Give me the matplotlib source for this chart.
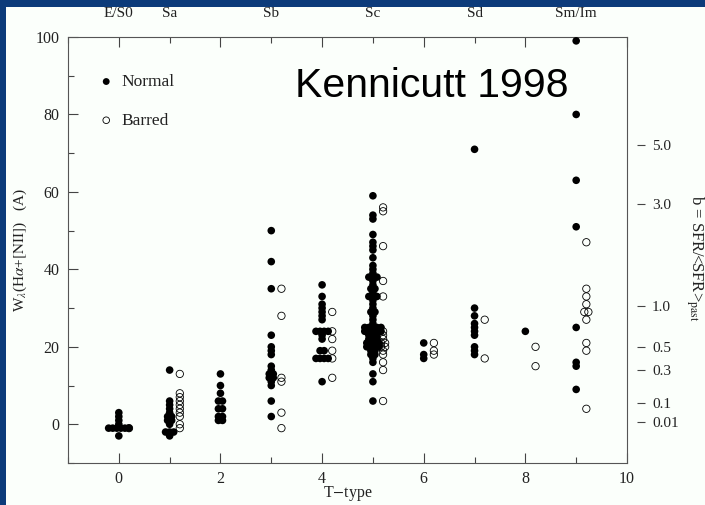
from collections import Counter

import matplotlib
matplotlib.use("Agg")
import matplotlib.pyplot as plt
from matplotlib.patches import Rectangle
from matplotlib.ticker import MultipleLocator
from matplotlib.transforms import blended_transform_factory

plt.rcParams['font.family'] = ['Liberation Serif', 'DejaVu Serif']
plt.rcParams['mathtext.fontset'] = 'stix'

# Hubble type index and the class names written along the top
t_types = [0, 1, 2, 3, 4, 5, 6, 7, 8, 9]
class_names = ['E/S0', 'Sa', 'Sb', 'Sc', 'Sd', 'Sm/Im']
class_t = [0, 1, 3, 5, 7, 9]

# Equivalent widths W(Ha+[NII]) in Angstrom, normal spirals
normal_0 = [3, 2, 1, 0, -1, -1, -1, -1, -1, -1, -3]
normal_1 = [14, 6, 5, 4, 3, 2, 2, 1, 1, 0, -2, -2, -2, -3]
normal_2 = [13, 10, 8, 6, 6, 4, 4, 2, 2, 1, 1]
normal_3 = [50, 42, 35, 23, 20, 19, 18, 15, 14, 13, 13, 12, 12, 11, 10, 6, 2]
normal_4 = [36, 33, 31, 30, 29, 28, 27, 24, 24, 24, 24, 23, 22, 19, 19,
            17, 17, 17, 17, 11]
normal_5 = [59, 54, 53, 49, 47, 46, 45, 43, 41, 40, 39, 38, 38, 38, 37, 36,
            35, 35, 34, 33, 33, 33, 32, 31, 30, 29, 29, 28, 27, 26, 25, 25,
            25, 25, 25, 24, 24, 24, 24, 24, 23, 23, 23, 22, 22, 22, 21, 21,
            21, 21, 20, 20, 20, 20, 19, 19, 18, 18, 17, 16, 13, 11, 6]
normal_6 = [21, 18, 17]
normal_7 = [71, 30, 28, 26, 25, 24, 23, 20, 19, 18]
normal_8 = [24]
normal_9 = [99, 80, 63, 51, 25, 16, 15, 9]

# same, barred spirals
barred_0 = [-1]
barred_1 = [13, 8, 7, 6, 5, 4, 3, 2, 0, -1]
barred_2 = []
barred_3 = [35, 28, 12, 11, 3, -1]
barred_4 = [29, 24, 22, 19, 17, 12]
barred_5 = [56, 55, 46, 37, 33, 24, 23, 22, 21, 21, 20, 20, 19, 18, 16, 14, 6]
barred_6 = [21, 19, 18]
barred_7 = [27, 17]
barred_8 = [20, 15]
barred_9 = [47, 35, 33, 31, 29, 29, 27, 21, 19, 4]

normal = [normal_0, normal_1, normal_2, normal_3, normal_4,
          normal_5, normal_6, normal_7, normal_8, normal_9]
barred = [barred_0, barred_1, barred_2, barred_3, barred_4,
          barred_5, barred_6, barred_7, barred_8, barred_9]

# birthrate parameter b = SFR/<SFR>past and the W it corresponds to
b_labels = ['5.0', '3.0', '1.0', '0.5', '0.3', '0.1', '0.01']
b_at_w = [72, 57, 30.5, 20, 14, 5.5, 0.5]


def spread(values, center, step=0.08):
    """Put galaxies with the same W side by side around the column."""
    xs, ys = [], []
    for v, n in Counter(values).items():
        for i in range(n):
            xs.append(center + (i - (n - 1) / 2) * step)
            ys.append(v)
    return xs, ys


nx, ny, bx, by = [], [], [], []
for t, vals in zip(t_types, normal):
    x, y = spread(vals, t)
    nx += x
    ny += y
for t, vals in zip(t_types, barred):
    x, y = spread(vals, t + 0.2)
    bx += x
    by += y

fig = plt.figure(figsize=(7.05, 5.05), dpi=100)
fig.patch.set_facecolor('#0c3b7a')
fig.patches.append(Rectangle((6 / 705, 0), 1, (505 - 7) / 505,
                             transform=fig.transFigure,
                             facecolor='#fbfffb', edgecolor='none',
                             zorder=-10))

ax = fig.add_axes([68 / 705, 42 / 505, 559 / 705, 426 / 505])
ax.set_facecolor('#fbfffb')

ax.scatter(nx, ny, s=30, color='black', edgecolors='none', label='Normal',
           zorder=3)
ax.scatter(bx, by, s=28, facecolors='none', edgecolors='black',
           linewidths=0.6, label='Barred', zorder=3)

ax.set_xlim(-1, 10)
ax.set_ylim(-10, 100)
ax.xaxis.set_major_locator(MultipleLocator(2))
ax.xaxis.set_minor_locator(MultipleLocator(1))
ax.yaxis.set_major_locator(MultipleLocator(20))
ax.yaxis.set_minor_locator(MultipleLocator(10))
ax.tick_params(which='both', direction='in', top=True, right=True,
               color='#444444', labelsize=11.5, labelcolor='#222222')
ax.tick_params(which='major', length=7, width=0.8, pad=6)
ax.tick_params(which='minor', length=4, width=0.8)
for sp in ax.spines.values():
    sp.set_color('#555555')
    sp.set_linewidth(0.8)

ax.set_xlabel('T$-$type', fontsize=11.5, color='#222222')
ax.xaxis.set_label_coords(0.5, -0.05)
ax.set_ylabel(r'W$_\lambda$(H$\alpha$+$\left[\mathrm{NII}\right]$)   (A)',
              fontsize=11, color='#222222')
ax.yaxis.set_label_coords(-0.07, 0.5)

# class names above the top axis
top = blended_transform_factory(ax.transData, ax.transAxes)
for name, t in zip(class_names, class_t):
    ax.text(t, 1.056, name, transform=top, ha='center', va='center',
            fontsize=11, color='#222222')

ax.legend(loc='upper left', bbox_to_anchor=(0.028, 0.95), frameon=False,
          fontsize=12.5, labelspacing=1.3, handletextpad=0.5,
          handlelength=0.8, markerscale=0.9, labelcolor='#222222')

# b scale off the right side
bx_ax = ax.twinx()
bx_ax.set_ylim(ax.get_ylim())
for sp in bx_ax.spines.values():
    sp.set_visible(False)
bx_ax.spines['right'].set_position(('outward', 7))
bx_ax.set_yticks(b_at_w, b_labels)
bx_ax.tick_params(axis='y', direction='out', length=6, width=0.8,
                  color='#444444', pad=5, labelsize=11, labelcolor='#222222')
bx_ax.set_ylabel(r'b = SFR/<SFR>$_{\rm past}$', rotation=270, fontsize=12,
                 color='#222222')
bx_ax.yaxis.set_label_coords(1.14, 0.48)

fig.text(0.613, 0.83, 'Kennicutt 1998', family='Liberation Sans',
         fontsize=29.5, ha='center', va='center', color='black')

fig.savefig('out.png', dpi=100, facecolor=fig.get_facecolor())
